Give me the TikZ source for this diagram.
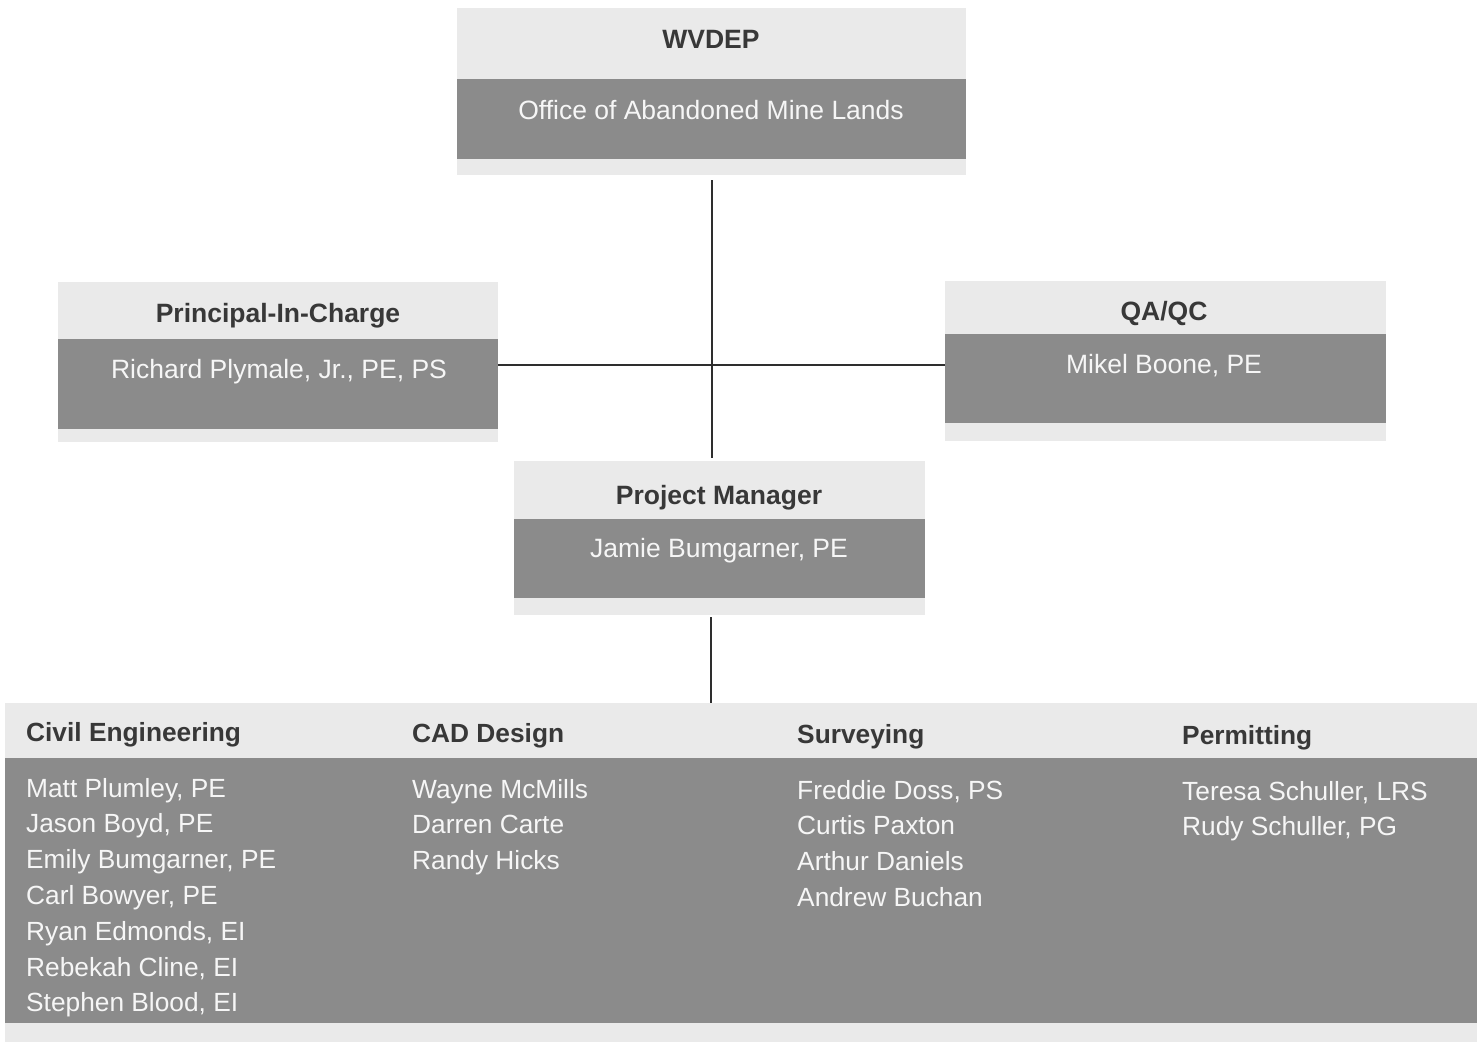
\documentclass[tikz,border=0pt]{standalone}
\usepackage{fontspec}
\setmainfont{Liberation Sans}
\definecolor{lightg}{HTML}{EAEAEA}
\definecolor{darkg}{HTML}{8B8B8B}
\definecolor{hdrc}{HTML}{383838}
\definecolor{namec}{HTML}{F6F6F6}
\definecolor{linec}{HTML}{2E2E2E}
\tikzset{
  boxbg/.style={fill=lightg, draw=none, inner sep=0pt, outer sep=0pt},
  band/.style={fill=darkg},
  hdr/.style={font=\fontsize{26.5}{32}\selectfont\bfseries, text=hdrc, inner sep=0pt, anchor=base},
  nm/.style={font=\fontsize{26.5}{32}\selectfont, text=namec, inner sep=0pt, anchor=base},
  lst/.style={font=\fontsize{26.3}{32}\selectfont, text=namec, inner sep=0pt, anchor=base west},
  lsthdr/.style={font=\fontsize{26.3}{32}\selectfont\bfseries, text=hdrc, inner sep=0pt, anchor=base west},
  conn/.style={draw=linec, line width=1.1pt}
}
\begin{document}
\begin{tikzpicture}[x=1pt,y=-1pt]
\useasboundingbox[fill=white] (0,0) rectangle (1481,1042);

% WVDEP
\node[boxbg, minimum width=509, minimum height=167] (wv) at (711.5,91.5) {};
\fill[band] (457,79) rectangle (966,159);
\node[hdr] (wvh) at (711,48) {WVDEP};
\node[nm] (wvn) at (711,119) {Office of Abandoned Mine Lands};

% Principal-In-Charge
\node[boxbg, minimum width=440, minimum height=160] (pic) at (278,362) {};
\fill[band] (58,339) rectangle (498,429);
\node[hdr] (pich) at (278,322) {Principal-In-Charge};
\node[nm] (picn) at (279,378) {Richard Plymale, Jr., PE, PS};

% QA/QC
\node[boxbg, minimum width=441, minimum height=160] (qa) at (1165.5,361) {};
\fill[band] (945,334) rectangle (1386,423);
\node[hdr] (qah) at (1164,320) {QA/QC};
\node[nm] (qan) at (1164,373) {Mikel Boone, PE};

% Project Manager
\node[boxbg, minimum width=411, minimum height=154] (pm) at (719.5,538) {};
\fill[band] (514,519) rectangle (925,598);
\node[hdr] (pmh) at (719,504) {Project Manager};
\node[nm] (pmn) at (719,557) {Jamie Bumgarner, PE};

% Team
\node[boxbg, minimum width=1472, minimum height=339] (team) at (741,872.5) {};
\fill[band] (5,758) rectangle (1477,1023);
\node[lsthdr] (ceh) at (26,741) {Civil Engineering};
\node[lsthdr] (cadh) at (412,742) {CAD Design};
\node[lsthdr] (svh) at (797,743) {Surveying};
\node[lsthdr] (prh) at (1182,744) {Permitting};

\foreach \t [count=\i] in {{Matt Plumley, PE}, {Jason Boyd, PE}, {Emily Bumgarner, PE}, {Carl Bowyer, PE}, {Ryan Edmonds, EI}, {Rebekah Cline, EI}, {Stephen Blood, EI}}
  \node[lst] (ce\i) at (26,{797+35.8*(\i-1)}) {\t};
\foreach \t [count=\i] in {Wayne McMills, Darren Carte, Randy Hicks}
  \node[lst] (cad\i) at (412,{798+35.8*(\i-1)}) {\t};
\foreach \t [count=\i] in {{Freddie Doss, PS}, Curtis Paxton, Arthur Daniels, Andrew Buchan}
  \node[lst] (sv\i) at (797,{799+35.8*(\i-1)}) {\t};
\foreach \t [count=\i] in {{Teresa Schuller, LRS}, {Rudy Schuller, PG}}
  \node[lst] (pr\i) at (1182,{800+35.8*(\i-1)}) {\t};

% connectors
\draw[conn] ([xshift=0.5pt,yshift=-5pt]wv.south) -- ([xshift=0.5pt,yshift=3pt]wv.south |- pm.north);
\draw[conn] ([yshift=-3pt]pic.east) -- ([yshift=-3pt]pic.east -| qa.west);
\draw[conn] ([xshift=-0.5pt,yshift=-2pt]wv.south |- pm.south) -- ([xshift=-0.5pt]wv.south |- team.north);
\end{tikzpicture}
\end{document}
